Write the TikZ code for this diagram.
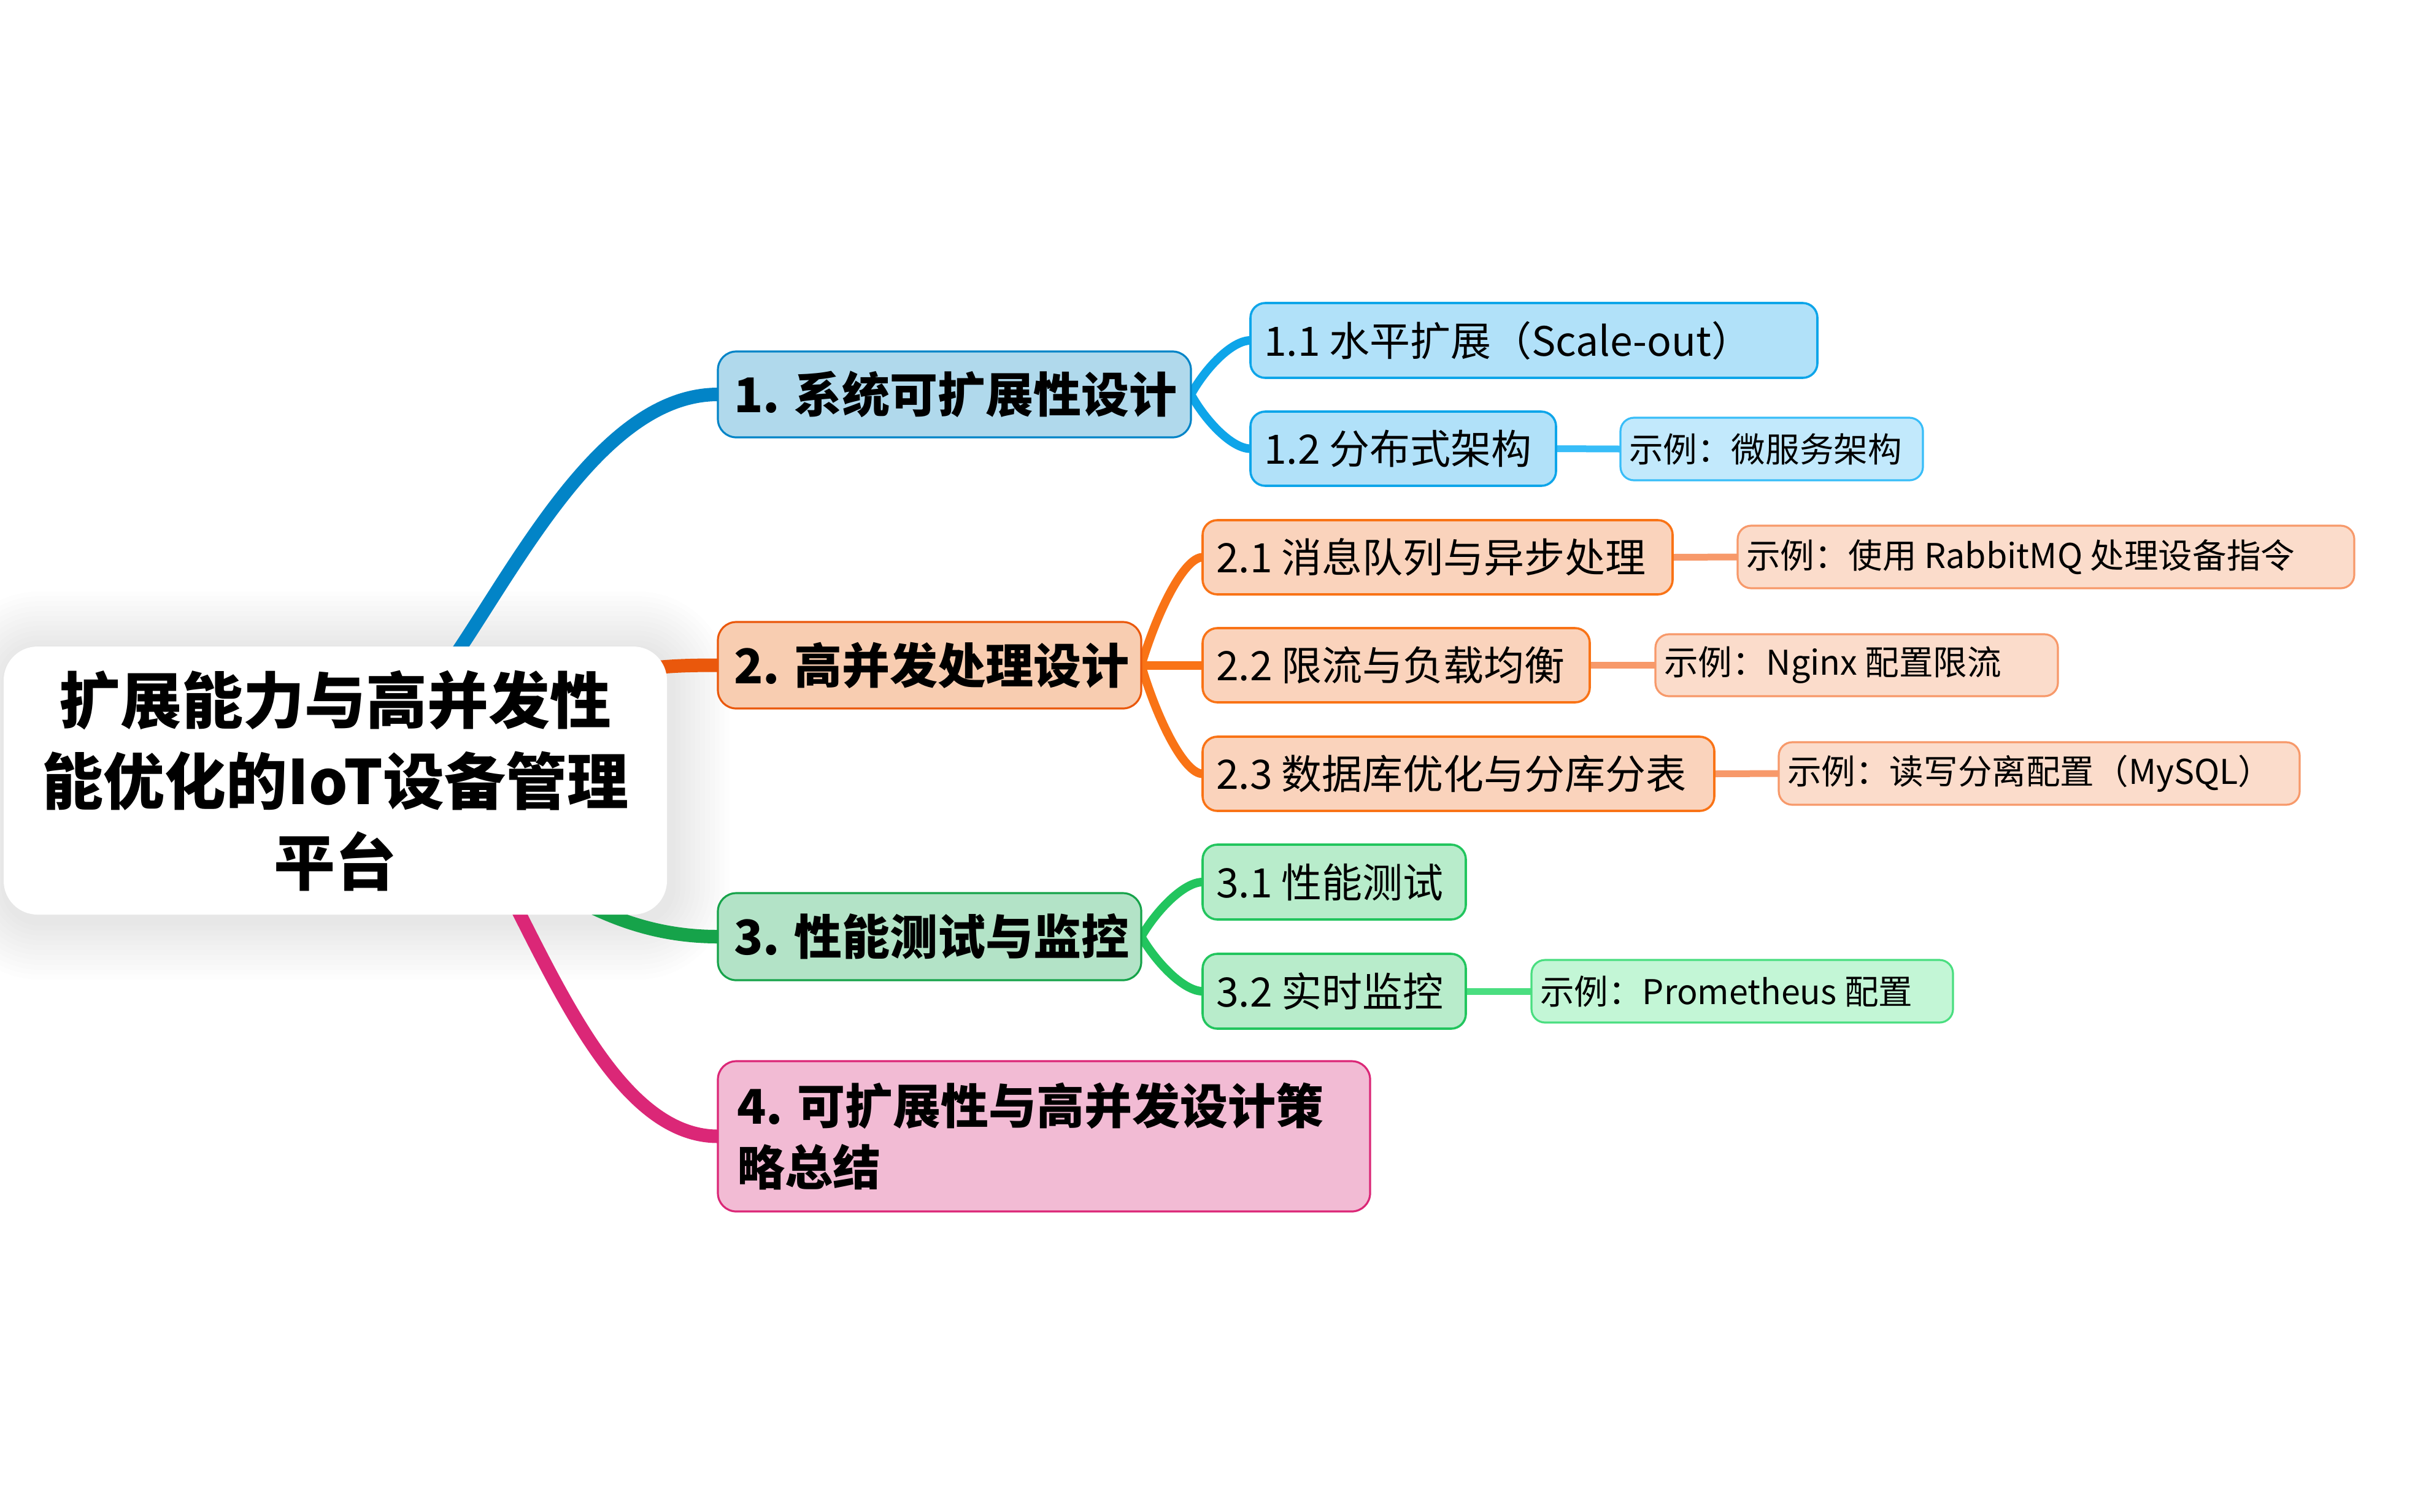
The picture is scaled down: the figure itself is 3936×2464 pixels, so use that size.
\documentclass[tikz,border=0pt]{standalone}
\usepackage{fontspec}
\setmainfont{Noto Sans CJK SC}
\usetikzlibrary{calc,backgrounds}
\newdimen\pxu
\pxu=0.25pt
\newcommand{\lbx}[2]{\makebox[#1\pxu][l]{#2}}

\definecolor{cOne}{HTML}{0284C7}
\definecolor{bOneF}{HTML}{B0D9EC}
\definecolor{sOne}{HTML}{0EA5E9}
\definecolor{sOneF}{HTML}{B1E1F9}
\definecolor{eOne}{HTML}{38BDF8}
\definecolor{eOneF}{HTML}{C2E9FC}
\definecolor{cTwo}{HTML}{EA580C}
\definecolor{bTwoF}{HTML}{F8CDB1}
\definecolor{sTwo}{HTML}{F97316}
\definecolor{sTwoF}{HTML}{FAD3BC}
\definecolor{eTwo}{HTML}{F7996A}
\definecolor{eTwoF}{HTML}{FBDCCB}
\definecolor{cThree}{HTML}{16A34A}
\definecolor{bThreeF}{HTML}{B3E3C7}
\definecolor{sThree}{HTML}{22C55E}
\definecolor{sThreeF}{HTML}{B8ECCB}
\definecolor{eThree}{HTML}{4ADE80}
\definecolor{eThreeF}{HTML}{C3F6D6}
\definecolor{cFour}{HTML}{DB2777}
\definecolor{bFourF}{HTML}{F2BBD4}

\tikzset{
  boxbase/.style={inner sep=0pt, outer sep=0pt, text=black},
  lvone/.style={boxbase, rounded corners=7.5pt, line width=0.8pt, font=\bfseries\fontsize{19.5}{25}\selectfont},
  lvtwo/.style={boxbase, rounded corners=6pt, line width=0.9pt, font=\fontsize{16.5}{20}\selectfont},
  lvex/.style={boxbase, rounded corners=5.5pt, line width=0.8pt, font=\fontsize{13.9}{17}\selectfont},
  sz/.style 2 args={minimum width=#1*0.25pt, minimum height=#2*0.25pt},
  mainln/.style={line width=5.5pt},
  subln/.style={line width=3.5pt},
  exln/.style={line width=2.75pt},
}

\begin{document}
\begin{tikzpicture}[x=0.25pt,y=-0.25pt]
\useasboundingbox (0,0) rectangle (3936,2464);

% central
\node[boxbase, sz={1081}{437}, fill=white, rounded corners=13.75pt, align=center,
  font=\bfseries\fontsize{25}{33}\selectfont] (c) at (546.5,1272.5)
  {扩展能力与高并发性\\能优化的IoT设备管理\\平台};

% level 1
\node[lvone, sz={771}{140}, fill=bOneF, draw=cOne] (n1) at (1555.5,643) {\lbx{719}{1. 系统可扩展性设计}};
\node[lvone, sz={690}{141}, fill=bTwoF, draw=cTwo] (n2) at (1515,1084.5) {\lbx{638}{2. 高并发处理设计}};
\node[lvone, sz={690}{142}, fill=bThreeF, draw=cThree] (n3) at (1515,1527) {\lbx{638}{3. 性能测试与监控}};
\node[lvone, sz={1063}{245}, fill=bFourF, draw=cFour, align=left] (n4) at (1701.5,1852.5)
  {\lbx{1001}{4. 可扩展性与高并发设计策}\\\lbx{1001}{略总结}};

% level 2
\node[lvtwo, sz={924}{122}, fill=sOneF, draw=sOne] (s11) at (2500,555) {\lbx{880}{1.1 水平扩展（Scale-out）}};
\node[lvtwo, sz={498}{121}, fill=sOneF, draw=sOne] (s12) at (2287,731.5) {\lbx{454}{1.2 分布式架构}};
\node[lvtwo, sz={766}{121}, fill=sTwoF, draw=sTwo] (s21) at (2343,908.5) {\lbx{722}{2.1 消息队列与异步处理}};
\node[lvtwo, sz={631}{121}, fill=sTwoF, draw=sTwo] (s22) at (2275.5,1084.5) {\lbx{587}{2.2 限流与负载均衡}};
\node[lvtwo, sz={834}{121}, fill=sTwoF, draw=sTwo] (s23) at (2377,1261.5) {\lbx{790}{2.3 数据库优化与分库分表}};
\node[lvtwo, sz={429}{122}, fill=sThreeF, draw=sThree] (s31) at (2174.5,1438) {\lbx{385}{3.1 性能测试}};
\node[lvtwo, sz={429}{122}, fill=sThreeF, draw=sThree] (s32) at (2174.5,1616) {\lbx{385}{3.2 实时监控}};

% examples
\node[lvex, sz={493}{102}, fill=eOneF, draw=eOne] (e12) at (2887.5,732) {\lbx{465}{示例：微服务架构}};
\node[lvex, sz={1005}{102}, fill=eTwoF, draw=eTwo] (e21) at (3334.5,908) {\lbx{977}{示例：使用 RabbitMQ 处理设备指令}};
\node[lvex, sz={656}{101}, fill=eTwoF, draw=eTwo] (e22) at (3026,1084.5) {\lbx{628}{示例：Nginx 配置限流}};
\node[lvex, sz={849}{102}, fill=eTwoF, draw=eTwo] (e23) at (3323.5,1261) {\lbx{821}{示例：读写分离配置（MySQL）}};
\node[lvex, sz={687}{102}, fill=eThreeF, draw=eThree] (e32) at (2839.5,1616) {\lbx{659}{示例：Prometheus 配置}};

\begin{scope}[on background layer]
  \fill[white] (0,0) rectangle (3936,2464);
  % soft shadow of central node
  \foreach \i in {1,...,12} {
    \pgfmathsetmacro{\rr}{(55+\i*8)*0.25}
    \fill[black, opacity=0.007, rounded corners=\rr pt]
      ($(c.south west)+(-\i*8+4,\i*8+10)$) rectangle ($(c.north east)+(\i*8+6,-\i*8+6)$);
  }
  % main branches
  \draw[mainln, cOne] ($(c.center)+(133.5,-122.5)$) .. controls ($(c.center)+(253.5,-252.5)$) and ($(n1.west)+(-220,0)$) .. (n1.west);
  \draw[mainln, cTwo] ($(c.center)+(299.5,-72.5)$) .. controls ($(c.center)+(403.5,-182.5)$) and ($(n2.west)+(-120,0)$) .. (n2.west);
  \draw[mainln, cThree] ($(c.center)+(153.5,27.5)$) .. controls ($(c.center)+(333.5,167.5)$) and ($(n3.west)+(-170,0)$) .. (n3.west);
  \draw[mainln, cFour] ($(c.center)+(213.5,57.5)$) .. controls ($(c.center)+(323.5,227.5)$) and ($(n4.west)+(-190,0)$) .. (n4.west);
  % sub branches
  \draw[subln, sOne] (n1.east) .. controls ($(n1.east)!0.5!(s11.west)+(-24,0)$) and ($(s11.west)+(-30,0)$) .. (s11.west);
  \draw[subln, sOne] (n1.east) .. controls ($(n1.east)!0.5!(s12.west)+(-24,0)$) and ($(s12.west)+(-30,0)$) .. (s12.west);
  \draw[subln, sTwo] (n2.east) .. controls ($(n2.east)!0.5!(s21.west)+(-24,0)$) and ($(s21.west)+(-30,0)$) .. (s21.west);
  \draw[subln, sTwo] (n2.east) -- (s22.west);
  \draw[subln, sTwo] (n2.east) .. controls ($(n2.east)!0.5!(s23.west)+(-24,0)$) and ($(s23.west)+(-30,0)$) .. (s23.west);
  \draw[subln, sThree] (n3.east) .. controls ($(n3.east)!0.5!(s31.west)+(-24,0)$) and ($(s31.west)+(-30,0)$) .. (s31.west);
  \draw[subln, sThree] (n3.east) .. controls ($(n3.east)!0.5!(s32.west)+(-24,0)$) and ($(s32.west)+(-30,0)$) .. (s32.west);
  % example links
  \draw[exln, eOne] (s12.east) -- (e12.west);
  \draw[exln, eTwo] (s21.east) -- (e21.west);
  \draw[exln, eTwo] (s22.east) -- (e22.west);
  \draw[exln, eTwo] (s23.east) -- (e23.west);
  \draw[exln, eThree] (s32.east) -- (e32.west);
\end{scope}
\end{tikzpicture}
\end{document}
